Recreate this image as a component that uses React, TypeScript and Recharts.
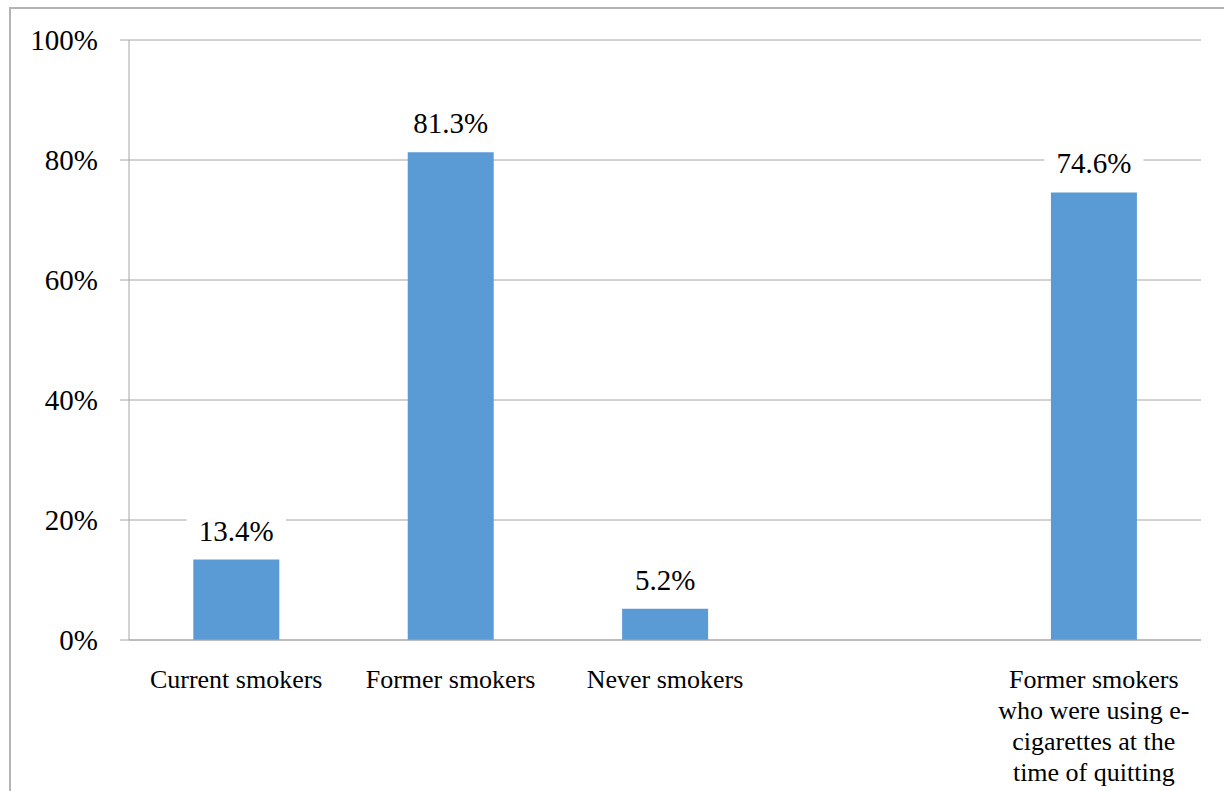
import React from "react";
import {
  BarChart,
  Bar,
  XAxis,
  YAxis,
  CartesianGrid,
  LabelList,
} from "recharts";

const categories: string[] = [
  "Current smokers",
  "Former smokers",
  "Never smokers",
  "",
  "Former smokers\nwho were using e-\ncigarettes at the\ntime of quitting",
];
const shares: (number | null)[] = [13.4, 81.3, 5.2, null, 74.6];
const yTicks: number[] = [0, 20, 40, 60, 80, 100];

const data = categories.map((c, i) => ({ category: c, share: shares[i] }));
const boundaryTicks = categories.map((_, i) => i).concat([categories.length]);

const FONT = "Liberation Serif, serif";
const GRID = "#a6a6a6";
const BAR = "#5b9bd5";

const CategoryTick = (props: any) => {
  const { x, y, payload } = props;
  const lines = String(payload.value).split("\n");
  return (
    <text
      x={x}
      y={y}
      textAnchor="middle"
      style={{ fontFamily: FONT, fontSize: 26 }}
      fill="#000"
    >
      {lines.map((l, i) => (
        <tspan key={i} x={x} y={y + 40 + i * 31}>
          {l}
        </tspan>
      ))}
    </text>
  );
};

const YTick = (props: any) => {
  const { x, y, payload } = props;
  return (
    <text
      x={x}
      y={y + 10}
      textAnchor="end"
      style={{ fontFamily: FONT, fontSize: 29 }}
      fill="#000"
    >
      {`${payload.value}%`}
    </text>
  );
};

const ValueLabel = (props: any) => {
  const { x, y, width, value } = props;
  if (value === null || value === undefined) return null;
  const cx = Number(x) + Number(width) / 2;
  const base = Number(y) - 19;
  const txt = `${Number(value).toFixed(1)}%`;
  const w = txt.length * 15 + 24;
  return (
    <g>
      <rect x={cx - w / 2} y={base - 28} width={w} height={36} fill="#fff" />
      <text
        x={cx}
        y={base}
        textAnchor="middle"
        style={{ fontFamily: FONT, fontSize: 29 }}
        fill="#000"
      >
        {txt}
      </text>
    </g>
  );
};

export default function App() {
  return (
    <div
      style={{
        position: "absolute",
        left: 0,
        top: 0,
        width: 1224,
        height: 791,
        overflow: "hidden",
        background: "#fff",
      }}
    >
      <div
        style={{
          position: "absolute",
          left: 9,
          top: 7,
          width: 1240,
          height: 800,
          border: `2px solid #b4b4b4`,
          boxSizing: "border-box",
        }}
      />
      <div style={{ position: "absolute", left: 0, top: 0 }}>
        <BarChart
          width={1224}
          height={791}
          data={data}
          margin={{ top: 40, right: 23, left: 0, bottom: 0 }}
          barCategoryGap="30%"
        >
          <CartesianGrid
            vertical={false}
            stroke={GRID}
            xAxisId="cat"
            yAxisId="y"
          />
          <XAxis
            xAxisId="bounds"
            type="number"
            domain={[0, categories.length]}
            ticks={boundaryTicks}
            tick={false}
            tickSize={8}
            tickLine={{ stroke: GRID }}
            axisLine={false}
            height={0}
            allowDataOverflow
          />
          <XAxis
            xAxisId="cat"
            dataKey="category"
            type="category"
            height={151}
            tickLine={false}
            axisLine={{ stroke: GRID }}
            interval={0}
            tick={<CategoryTick />}
          />
          <YAxis
            yAxisId="y"
            width={129}
            domain={[0, 100]}
            ticks={yTicks}
            tickSize={9}
            tickMargin={22}
            tickLine={{ stroke: GRID }}
            axisLine={{ stroke: GRID }}
            tick={<YTick />}
          />
          <Bar
            xAxisId="cat"
            yAxisId="y"
            dataKey="share"
            fill={BAR}
            isAnimationActive={false}
          >
            <LabelList dataKey="share" content={<ValueLabel />} />
          </Bar>
        </BarChart>
      </div>
    </div>
  );
}
